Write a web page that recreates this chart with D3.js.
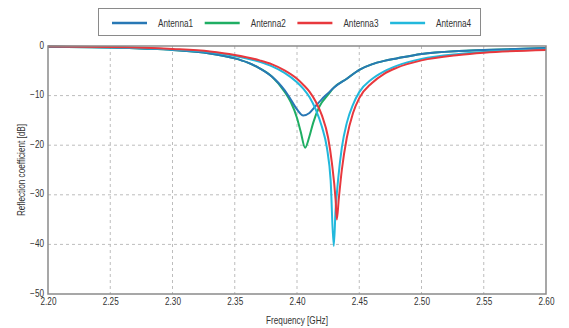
<!DOCTYPE html>
<html>
<head>
<meta charset="utf-8">
<script src="https://cdn.jsdelivr.net/npm/d3@7"></script>
<style>
  html, body { margin: 0; padding: 0; background: #fff; }
  svg { display: block; font-family: "Liberation Sans", Arial, sans-serif; }
  .tick text { fill: #333; font-size: 10px; }
</style>
</head>
<body>
<svg id="chart" width="569" height="328"></svg>
<script>
'use strict';

// ── Data ──────────────────────────────────────────────────────────────────
const names  = ['Antenna1', 'Antenna2', 'Antenna3', 'Antenna4'];
const colors = ['#2878b5', '#1fae63', '#e8383d', '#22b8dc'];

const antenna1 = [
  [2.20, -0.15], [2.25, -0.3], [2.28, -0.55], [2.30, -0.8], [2.33, -1.5], [2.35, -2.5],
  [2.36, -3.3], [2.37, -4.5], [2.38, -6.2], [2.385, -7.4], [2.39, -8.9], [2.395, -10.8],
  [2.40, -12.8], [2.405, -14.0], [2.41, -13.5], [2.415, -12.1], [2.42, -10.7], [2.425, -9.5],
  [2.43, -8.3], [2.44, -6.6], [2.45, -4.8], [2.46, -3.7], [2.47, -3.0], [2.48, -2.5],
  [2.50, -1.6], [2.53, -1.0], [2.55, -0.8], [2.60, -0.4]
];
const antenna2 = [
  [2.20, -0.15], [2.25, -0.3], [2.28, -0.55], [2.30, -0.8], [2.33, -1.5], [2.35, -2.5],
  [2.36, -3.3], [2.37, -4.5], [2.38, -6.2], [2.39, -9.2], [2.395, -11.3], [2.40, -14.5],
  [2.403, -17.3], [2.4065, -20.5], [2.41, -18.2], [2.413, -15.5], [2.418, -12.2], [2.425, -9.8],
  [2.43, -8.3], [2.44, -6.6], [2.45, -4.8], [2.46, -3.7], [2.47, -3.0], [2.48, -2.5],
  [2.50, -1.6], [2.53, -1.0], [2.55, -0.8], [2.60, -0.4]
];
const antenna3 = [
  [2.20, -0.1], [2.25, -0.2], [2.30, -0.6], [2.33, -1.1], [2.35, -1.8], [2.37, -2.9],
  [2.38, -3.7], [2.39, -4.9], [2.40, -6.6], [2.405, -7.8], [2.41, -9.2], [2.415, -11.2],
  [2.42, -14.0], [2.425, -18.5], [2.428, -23.5], [2.431, -31], [2.432, -35], [2.4335, -31],
  [2.436, -25], [2.44, -18.5], [2.445, -13.5], [2.45, -10.5], [2.46, -7.5], [2.47, -5.6],
  [2.48, -4.4], [2.50, -2.9], [2.53, -1.8], [2.55, -1.35], [2.60, -0.8]
];
const antenna4 = [
  [2.20, -0.1], [2.25, -0.25], [2.30, -0.7], [2.33, -1.2], [2.35, -2.0], [2.37, -3.2],
  [2.38, -4.1], [2.39, -5.4], [2.40, -7.3], [2.405, -8.6], [2.41, -10.3], [2.415, -12.8],
  [2.42, -16.3], [2.424, -20.5], [2.427, -27], [2.4295, -40.3], [2.431, -33], [2.433, -27],
  [2.436, -20.5], [2.44, -15.5], [2.445, -11.8], [2.45, -9.3], [2.46, -6.7], [2.47, -5.1],
  [2.48, -4.0], [2.50, -2.6], [2.53, -1.6], [2.55, -1.2], [2.60, -0.7]
];
const series = [antenna1, antenna2, antenna3, antenna4];
// back-to-front draw order (blue over green, red over cyan as in the picture)
const drawOrder = [1, 0, 3, 2];

const xTicks = [2.20, 2.25, 2.30, 2.35, 2.40, 2.45, 2.50, 2.55, 2.60];
const yTicks = [0, -10, -20, -30, -40, -50];

// the picture uses a narrow face; squeeze the text horizontally
const SQUEEZE = 'scale(0.82,1)';

// ── Layout ────────────────────────────────────────────────────────────────
const svg = d3.select('#chart');
const plot = { left: 48, top: 46, right: 546, bottom: 294 };

const x = d3.scaleLinear().domain([2.20, 2.60]).range([plot.left, plot.right]);
const y = d3.scaleLinear().domain([-50, 0]).range([plot.bottom, plot.top]);

// ── Grid ──────────────────────────────────────────────────────────────────
const grid = svg.append('g');
grid.selectAll('line.vx').data(xTicks.slice(1, -1)).join('line')
  .attr('x1', d => x(d)).attr('x2', d => x(d))
  .attr('y1', plot.top).attr('y2', plot.bottom)
  .attr('stroke', '#bdbdbd').attr('stroke-dasharray', '3,3');
grid.selectAll('line.hy').data(yTicks.slice(1, -1)).join('line')
  .attr('y1', d => y(d)).attr('y2', d => y(d))
  .attr('x1', plot.left).attr('x2', plot.right)
  .attr('stroke', '#bdbdbd').attr('stroke-dasharray', '3,3');

// ── Axes ──────────────────────────────────────────────────────────────────
const xAxis = svg.append('g')
  .attr('transform', `translate(0,${plot.bottom})`)
  .call(d3.axisBottom(x).tickValues(xTicks).tickFormat(d3.format('.2f')).tickSize(0).tickPadding(4));
xAxis.select('.domain').remove();
xAxis.selectAll('.tick text').attr('transform', SQUEEZE);

const yAxis = svg.append('g')
  .attr('transform', `translate(${plot.left},0)`)
  .call(d3.axisLeft(y).tickValues(yTicks).tickFormat(d3.format('d')).tickSize(0).tickPadding(4));
yAxis.select('.domain').remove();
yAxis.selectAll('.tick text').attr('dy', '0.2em').attr('x', -4 / 0.82).attr('transform', SQUEEZE);

// ── Curves ────────────────────────────────────────────────────────────────
const line = d3.line()
  .x(d => x(d[0]))
  .y(d => y(d[1]))
  .curve(d3.curveMonotoneX);

svg.append('g').selectAll('path')
  .data(drawOrder).join('path')
  .attr('d', i => line(series[i]))
  .attr('fill', 'none')
  .attr('stroke', i => colors[i])
  .attr('stroke-width', 2);

// Plot frame
svg.append('rect')
  .attr('x', plot.left).attr('y', plot.top)
  .attr('width', plot.right - plot.left).attr('height', plot.bottom - plot.top)
  .attr('fill', 'none').attr('stroke', '#8a8a8a').attr('stroke-width', 1.5);

// ── Axis titles ───────────────────────────────────────────────────────────
svg.append('text')
  .attr('transform', `translate(${(plot.left + plot.right) / 2},324) ${SQUEEZE}`)
  .attr('text-anchor', 'middle').attr('fill', '#333').attr('font-size', 10)
  .text('Frequency [GHz]');

svg.append('text')
  .attr('transform', `translate(25,${(plot.top + plot.bottom) / 2}) rotate(-90) ${SQUEEZE}`)
  .attr('text-anchor', 'middle').attr('fill', '#333').attr('font-size', 10)
  .text('Reflection coefficient [dB]');

// ── Legend ────────────────────────────────────────────────────────────────
const legend = svg.append('g');
legend.append('rect')
  .attr('x', 98.5).attr('y', 8.5).attr('width', 382).attr('height', 27)
  .attr('fill', '#fff').attr('stroke', '#8a8a8a').attr('stroke-width', 1);

const item = legend.selectAll('g.item').data(names).join('g')
  .attr('transform', (d, i) => `translate(${112 + i * 92.7},23)`);
item.append('line')
  .attr('x1', 0).attr('x2', 35).attr('y1', 0).attr('y2', 0)
  .attr('stroke', (d, i) => colors[i]).attr('stroke-width', 2.5);
item.append('text')
  .attr('transform', `translate(46,3.5) ${SQUEEZE}`)
  .attr('fill', '#333').attr('font-size', 10)
  .text(d => d);
</script>
</body>
</html>
